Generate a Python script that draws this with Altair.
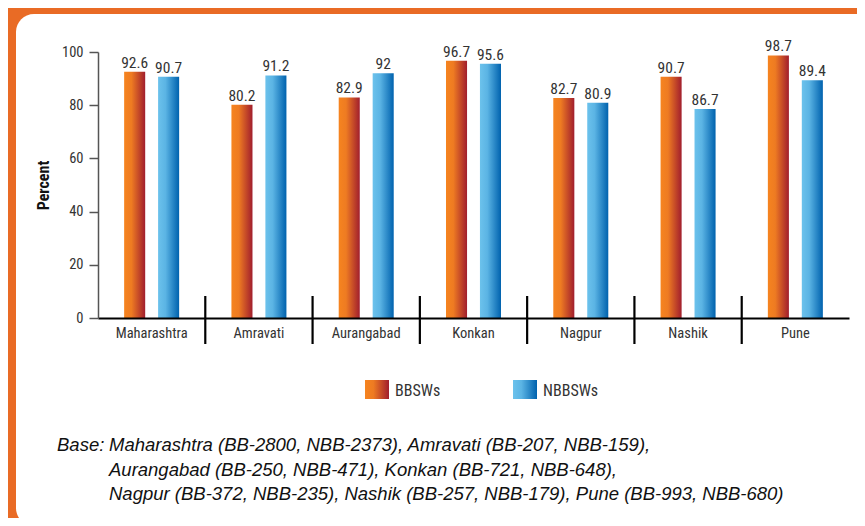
import altair as alt
import pandas as pd

# ---------------- data ----------------
regions = ["Maharashtra", "Amravati", "Aurangabad", "Konkan", "Nagpur", "Nashik", "Pune"]
series = ["BBSWs", "NBBSWs"]
# bar heights as drawn in the picture
bbsw_values = [92.6, 80.2, 82.9, 96.7, 82.7, 90.7, 98.7]
nbbsw_values = [90.7, 91.2, 92.0, 95.6, 80.9, 78.6, 89.4]
# labels as printed in the picture
bbsw_labels = ["92.6", "80.2", "82.9", "96.7", "82.7", "90.7", "98.7"]
nbbsw_labels = ["90.7", "91.2", "92", "95.6", "80.9", "86.7", "89.4"]
y_ticks = [0, 20, 40, 60, 80, 100]
footnote_prefix = "Base:"
footnote_lines = [
    "Maharashtra (BB-2800, NBB-2373), Amravati (BB-207, NBB-159),",
    "Aurangabad (BB-250, NBB-471), Konkan (BB-721, NBB-648),",
    "Nagpur (BB-372, NBB-235), Nashik (BB-257, NBB-179), Pune (BB-993, NBB-680)",
]

rows = []
for r, v, l in zip(regions, bbsw_values, bbsw_labels):
    rows.append({"region": r, "series": series[0], "value": v, "label": l})
for r, v, l in zip(regions, nbbsw_values, nbbsw_labels):
    rows.append({"region": r, "series": series[1], "value": v, "label": l})
df = pd.DataFrame(rows)
div_df = pd.DataFrame({"region": regions[1:]})
one = pd.DataFrame({"k": [0]})

# ---------------- style ----------------
FONT = "Roboto Condensed, DejaVu Sans Condensed, Roboto, Liberation Sans"
TXT = "#333333"
FRAME = "#E96B25"


def grad(c0, c1, c2, mid):
    return alt.LinearGradient(
        gradient="linear",
        stops=[alt.GradientStop(color=c0, offset=0),
               alt.GradientStop(color=c1, offset=mid),
               alt.GradientStop(color=c2, offset=1)],
        x1=0, x2=1, y1=0, y2=0,
    )


orange_grad = grad("#F6841F", "#EE7B22", "#A11E2D", 0.35)
blue_grad = grad("#6CC2EC", "#5BB4E4", "#0062AE", 0.35)

x_scale = alt.Scale(domain=regions, paddingInner=0, paddingOuter=0)
x_axis = alt.Axis(title=None, ticks=False, domainColor="black", domainWidth=2.2,
                  labelFont=FONT, labelFontSize=14.5, labelColor=TXT, labelPadding=8,
                  labelAngle=0, zindex=1)
x_enc = alt.X("region:N", sort=regions, scale=x_scale, axis=x_axis)
xoff_enc = alt.XOffset("series:N", scale=alt.Scale(domain=series, paddingInner=0.38, paddingOuter=0.77))
y_enc = alt.Y(
    "value:Q", scale=alt.Scale(domain=[0, 100], nice=False),
    axis=alt.Axis(title="Percent", values=y_ticks, grid=False,
                  domainColor="#555555", domainWidth=1.5,
                  tickColor="#555555", tickWidth=1.5, tickSize=9,
                  labelFont=FONT, labelFontSize=14.5, labelColor=TXT, labelPadding=6,
                  titleFont=FONT, titleFontSize=16, titleFontWeight="bold",
                  titleColor="#111111", titlePadding=10, zindex=1),
)

panel = alt.Chart(one).mark_rect(color="white", cornerRadius=18).encode(
    x=alt.value(-82), x2=alt.value(800), y=alt.value(-38), y2=alt.value(474)
)

dividers = alt.Chart(div_df).mark_rule(color="black", strokeWidth=2.2).encode(
    x=alt.X("region:N", sort=regions, bandPosition=0, scale=x_scale, axis=x_axis),
    y=alt.value(244), y2=alt.value(292),
)

bars_o = alt.Chart(df).transform_filter(alt.datum.series == series[0]).mark_bar(
    color=orange_grad).encode(x=x_enc, xOffset=xoff_enc, y=y_enc)
bars_b = alt.Chart(df).transform_filter(alt.datum.series == series[1]).mark_bar(
    color=blue_grad).encode(x=x_enc, xOffset=xoff_enc, y=y_enc)

labels = alt.Chart(df).mark_text(
    baseline="alphabetic", dy=-4, font=FONT, fontSize=15.5, color=TXT
).encode(x=x_enc, xOffset=xoff_enc, y=y_enc, text="label:N")

leg_o = alt.Chart(one).mark_rect(color=orange_grad).encode(
    x=alt.value(267), x2=alt.value(291), y=alt.value(328), y2=alt.value(347))
leg_b = alt.Chart(one).mark_rect(color=blue_grad).encode(
    x=alt.value(415), x2=alt.value(439), y=alt.value(328), y2=alt.value(347))
leg_ot = alt.Chart(one).mark_text(
    align="left", baseline="middle", font=FONT, fontSize=16, color=TXT, text=series[0]
).encode(x=alt.value(297), y=alt.value(339))
leg_bt = alt.Chart(one).mark_text(
    align="left", baseline="middle", font=FONT, fontSize=16, color=TXT, text=series[1]
).encode(x=alt.value(445), y=alt.value(339))

foot_style = dict(align="left", baseline="middle", font="Liberation Sans", fontSize=18.5,
                  fontStyle="italic", color="#111111")
foot_layers = [
    alt.Chart(one).mark_text(text=footnote_prefix, **foot_style).encode(
        x=alt.value(-41), y=alt.value(393))
]
for i, line in enumerate(footnote_lines):
    foot_layers.append(
        alt.Chart(one).mark_text(text=line, **foot_style).encode(
            x=alt.value(11), y=alt.value(393 + 24.5 * i))
    )

chart = alt.layer(
    panel, dividers, bars_o, bars_b, labels, leg_o, leg_b, leg_ot, leg_bt, *foot_layers
).properties(
    width=751, height=266,
    autosize=alt.AutoSizeParams(type="none"),
    padding={"left": 90, "top": 44, "right": 8, "bottom": 200},
    background=FRAME,
).configure_view(stroke=None)

chart.save("out.html", embed_options={"renderer": "svg", "actions": False})
